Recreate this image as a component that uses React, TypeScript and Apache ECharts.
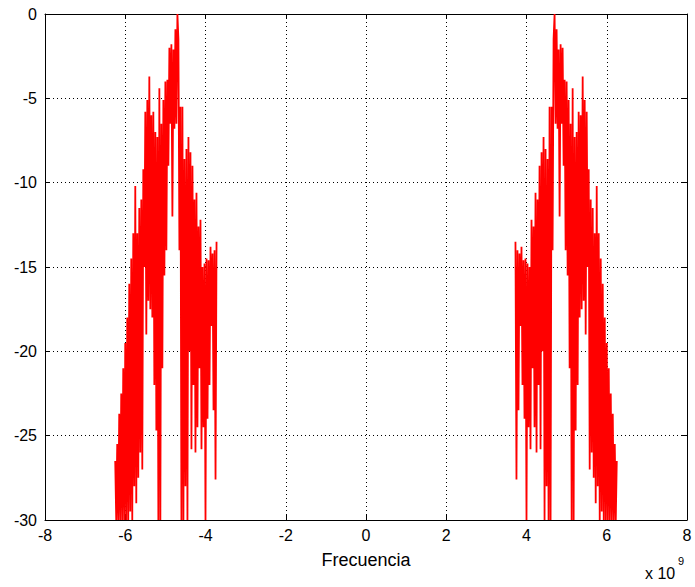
import React, { useEffect, useRef } from 'react';
import * as echarts from 'echarts';

// Spectrum magnitude (dB) of the positive-frequency band, sampled from
// bandStartGHz in steps of bandStepGHz (x 10^9 Hz). The negative band is its mirror.
const bandStartGHz = 3.725;
const bandStepGHz = 0.025;
const magnitudeDb = [
  -13.5, -27.6, -14.0, -23.5, -14.2, -18.5, -13.8, -22.0, -14.6, -24.0,
  -14.5, -30.0, -14.8, -24.5, -15.0, -25.8, -12.2, -21.0, -12.6, -24.5,
  -10.6, -26.0, -11.0, -22.0, -9.0, -25.8, -8.2, -20.0, -7.3, -30.0,
  -8.0, -28.0, -8.6, -30.0, -5.5, -30.0, -5.5, -14.0, -1.5, 0.0,
  -6.5, -0.9, -6.8, -2.1, -12.0, -1.8, -6.5, -2.0, -9.0, -3.9,
  -14.0, -4.0, -15.5, -5.1, -21.0, -6.5, -30.0, -4.4, -30.0, -7.3,
  -24.7, -7.0, -22.0, -5.8, -18.0, -6.0, -17.5, -3.7, -17.0, -5.1,
  -19.0, -5.8, -15.0, -9.2, -27.0, -11.0, -26.0, -11.5, -27.5, -13.0,
  -29.0, -10.2, -28.0, -13.0, -30.0, -14.5, -29.5, -16.0, -30.0, -18.0,
  -30.0, -19.5, -30.0, -21.0, -30.0, -22.5, -30.0, -23.7, -30.0, -25.5,
  -30.0, -26.5,
];

const xMin = -8;
const xMax = 8;
const xStep = 2;
const yMin = -30;
const yMax = 0;
const yStep = 5;
const xName = 'Frecuencia';

const FONT = '"Liberation Sans", Arial, Helvetica, sans-serif';

export default function App() {
  const ref = useRef<HTMLDivElement>(null);

  useEffect(() => {
    if (!ref.current) return;
    const chart = echarts.init(ref.current, null, { renderer: 'svg' });

    const posBand = magnitudeDb.map((v, i) => [bandStartGHz + bandStepGHz * i, v]);
    const negBand = magnitudeDb
      .map((v, i) => [-(bandStartGHz + bandStepGHz * i), v])
      .reverse();

    const dotted = { color: '#000', width: 1, type: [1, 3] as number[] };
    const bandLine = { color: '#ff0000', width: 1.8, join: 'miter' as const, miterLimit: 2 };

    chart.setOption({
      animation: false,
      backgroundColor: '#fff',
      grid: {
        left: 45,
        right: 8,
        top: 14,
        bottom: 67,
        show: false,
      },
      xAxis: [
        {
          type: 'value',
          min: xMin,
          max: xMax,
          interval: xStep,
          position: 'bottom',
          name: xName,
          nameLocation: 'middle',
          nameGap: 31,
          nameTextStyle: { color: '#000', fontFamily: FONT, fontSize: 18 },
          axisLine: { show: true, onZero: false, lineStyle: { color: '#000', width: 1 } },
          axisTick: { show: true, inside: true, length: 5, lineStyle: { color: '#000' } },
          axisLabel: { color: '#000', fontFamily: FONT, fontSize: 16, margin: 7 },
          splitLine: { show: true, lineStyle: dotted },
        },
        {
          type: 'value',
          min: xMin,
          max: xMax,
          interval: xStep,
          position: 'top',
          axisLine: { show: true, onZero: false, lineStyle: { color: '#000', width: 1 } },
          axisTick: { show: true, inside: true, length: 5, lineStyle: { color: '#000' } },
          axisLabel: { show: false },
          splitLine: { show: false },
        },
      ],
      yAxis: [
        {
          type: 'value',
          min: yMin,
          max: yMax,
          interval: yStep,
          position: 'left',
          axisLine: { show: true, onZero: false, lineStyle: { color: '#000', width: 1 } },
          axisTick: { show: true, inside: true, length: 5, lineStyle: { color: '#000' } },
          axisLabel: { color: '#000', fontFamily: FONT, fontSize: 16, margin: 8 },
          splitLine: { show: true, lineStyle: dotted },
        },
        {
          type: 'value',
          min: yMin,
          max: yMax,
          interval: yStep,
          position: 'right',
          axisLine: { show: true, onZero: false, lineStyle: { color: '#000', width: 1 } },
          axisTick: { show: true, inside: true, length: 5, lineStyle: { color: '#000' } },
          axisLabel: { show: false },
          splitLine: { show: false },
        },
      ],
      series: [
        {
          type: 'line',
          xAxisIndex: 0,
          yAxisIndex: 0,
          data: negBand,
          showSymbol: false,
          symbol: 'none',
          clip: true,
          lineStyle: bandLine,
          emphasis: { disabled: true },
        },
        {
          type: 'line',
          xAxisIndex: 0,
          yAxisIndex: 0,
          data: posBand,
          showSymbol: false,
          symbol: 'none',
          clip: true,
          lineStyle: bandLine,
          emphasis: { disabled: true },
        },
      ],
      graphic: [
        {
          type: 'text',
          left: 645,
          top: 565,
          style: { text: 'x 10', fill: '#000', font: `16px ${FONT}` },
        },
        {
          type: 'text',
          left: 678,
          top: 555,
          style: { text: '9', fill: '#000', font: `11px ${FONT}` },
        },
      ],
    });

    return () => chart.dispose();
  }, []);

  return (
    <div
      ref={ref}
      style={{
        position: 'fixed',
        left: 0,
        top: 0,
        width: 695,
        height: 587,
        background: '#fff',
      }}
    />
  );
}
